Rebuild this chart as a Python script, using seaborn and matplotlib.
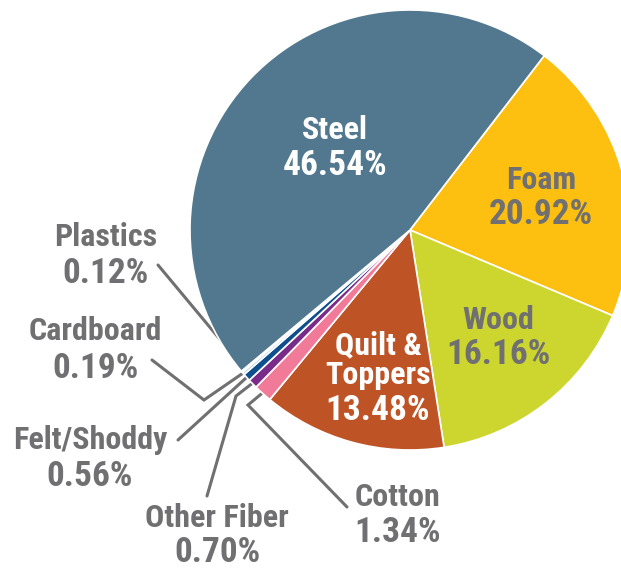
import numpy as np
import matplotlib
matplotlib.use('Agg')
import matplotlib.pyplot as plt
import seaborn as sns
from matplotlib import font_manager

# material shares (%), clockwise from the Steel/Foam edge
materials = ['Foam', 'Wood', 'Quilt &\nToppers', 'Cotton', 'Other Fiber',
             'Felt/Shoddy', 'Cardboard', 'Plastics', 'Steel']
shares = [20.92, 16.16, 13.48, 1.34, 0.70, 0.56, 0.19, 0.12, 46.54]
share_labels = ['20.92%', '16.16%', '13.48%', '1.34%', '0.70%',
                '0.56%', '0.19%', '0.12%', '46.54%']
colors = ['#FDC010', '#CCD62F', '#BE5326', '#F07A98', '#7A2A88',
          '#0E4F8E', '#A9CBE8', '#C5DFB8', '#52788F']

sns.set_theme(style='white')
names = {f.name for f in font_manager.fontManager.ttflist}
family = 'DejaVu Sans'
for cand in ['Roboto Condensed', 'Liberation Sans Narrow', 'Open Sans Condensed']:
    if cand in names:
        family = cand
        break
plt.rcParams['font.family'] = [family, 'DejaVu Sans']

W, H = 621, 569
fig = plt.figure(figsize=(W / 100, H / 100), dpi=100)
ax = fig.add_axes([0, 0, 1, 1])

cx, cy, R = 410, H - 230, 220
start = 52.4
wedges, _ = ax.pie(shares, colors=colors, startangle=start, counterclock=False,
                   center=(cx, cy), radius=R, frame=True,
                   wedgeprops=dict(edgecolor='white', linewidth=1.2))
ax.set_xlim(0, W)
ax.set_ylim(0, H)
ax.set_aspect('equal')
ax.axis('off')

grey = '#707072'

# label layout: x, name y, percent y (image px), color
label_pos = {'Steel': (335, 130, 165, 'white'),
             'Foam': (541, 180, 214, grey),
             'Wood': (498, 320, 355, grey),
             'Quilt &\nToppers': (378, 360, 410, 'white'),
             'Plastics': (106, 237, 273, grey),
             'Cardboard': (95, 331, 368, grey),
             'Felt/Shoddy': (90, 440, 477, grey),
             'Other Fiber': (217, 518, 553, grey),
             'Cotton': (398, 497, 533, grey)}
# leader line bends for the small slices (image px)
leader_pts = {'Plastics': [(158, 265)],
              'Cardboard': [(152, 360), (204, 400)],
              'Felt/Shoddy': [(178, 440)],
              'Other Fiber': [(207, 496), (236, 396)],
              'Cotton': [(347, 507), (248, 405)]}

for w, name, lab in zip(wedges, materials, share_labels):
    x, yn, yp, c = label_pos[name]
    ax.text(x, H - yn, name, ha='center', va='center', color=c,
            fontsize=23, fontweight='bold', linespacing=1.0)
    ax.text(x, H - yp, lab, ha='center', va='center', color=c,
            fontsize=25.5, fontweight='bold')
    if name in leader_pts:
        mid = np.deg2rad((w.theta1 + w.theta2) / 2)
        end_x = cx + (R - 4) * np.cos(mid)
        end_y = cy + (R - 4) * np.sin(mid)
        pts = leader_pts[name]
        xs = [p[0] for p in pts] + [end_x]
        ys = [H - p[1] for p in pts] + [end_y]
        ax.plot(xs, ys, color=grey, lw=2.2, solid_joinstyle='miter', zorder=0.5)

fig.savefig('out.png', dpi=100)
